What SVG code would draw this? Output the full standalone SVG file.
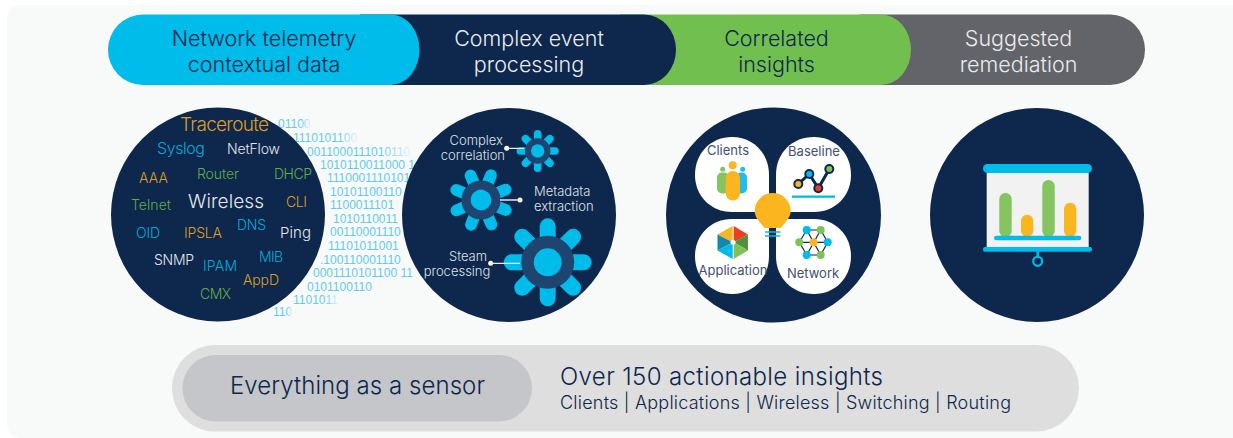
<svg xmlns="http://www.w3.org/2000/svg" xmlns:xlink="http://www.w3.org/1999/xlink" width="1233" height="438" viewBox="0 0 1233 438">
<style>
text{font-family:"Inter","Liberation Sans",sans-serif;font-weight:300}
.h{font-size:21.5px;text-anchor:middle}
.w{fill:#e9ebee}.n{fill:#0d274d}
.o{fill:#dc9f24}.b{fill:#0aa9d8}.g{fill:#64ab47}.l{fill:#e4e7ec}
.c{font-size:14px}
.lab{font-size:13px;fill:#dfe2e8}
.p{font-size:13px;fill:#41506f;text-anchor:middle;font-weight:400}
.bin{font-family:"Liberation Sans",sans-serif;font-size:12px;fill:#62c9ec;font-weight:400}
.f{fill:url(#fade)}
.petal{fill:#00bceb}
.ring{fill:#1f4470}
.lead{stroke:#e6e8ec;stroke-width:1.3;fill:none}
.dot{fill:#fff}
.cw{fill:#fff}
.ln{stroke:#0d274d;stroke-width:1.2}
</style>
<defs>
<linearGradient id="fade" x1="0" x2="1" y1="0" y2="0"><stop offset="0" stop-color="#62c9ec"/><stop offset=".7" stop-color="#62c9ec"/><stop offset="1" stop-color="#62c9ec" stop-opacity=".15"/></linearGradient>
<g id="gear"><g class="petal">
<rect x="-8" y="-44" width="16" height="88" rx="8"/>
<rect x="-8" y="-44" width="16" height="88" rx="8" transform="rotate(45)"/>
<rect x="-8" y="-44" width="16" height="88" rx="8" transform="rotate(90)"/>
<rect x="-8" y="-44" width="16" height="88" rx="8" transform="rotate(135)"/></g>
<circle class="ring" r="26.5"/><circle class="petal" r="14"/></g>
</defs>
<rect width="1233" height="438" fill="#fff"/>
<rect x="7" y="5" width="1240" height="433" rx="14" fill="#f8fafa"/>

<g id="header">
<g id="step-remediation"><path d="M860 14.500H1110A35 35.250 0 0 1 1145 49.750A35 35.250 0 0 1 1110 85H860Z" fill="#636469"/><text class="h w" x="1018.500" y="46">Suggested</text><text class="h w" x="1018.500" y="72">remediation</text></g>
<g id="step-insights"><path d="M620 14.500H881A30 35.250 0 0 1 911 49.750A30 35.250 0 0 1 881 85H620Z" fill="#71bf4e"/><text class="h n" x="776.500" y="46">Correlated</text><text class="h n" x="776.500" y="72">insights</text></g>
<g id="step-processing"><path d="M360 14.500H644A32 35.250 0 0 1 676 49.750A32 35.250 0 0 1 644 85H360Z" fill="#0d274d"/><text class="h w" x="529" y="46">Complex event</text><text class="h w" x="529" y="72">processing</text></g>
<g id="step-telemetry"><path d="M143 14.500H391A28.500 35.250 0 0 1 419.500 49.750A28.500 35.250 0 0 1 391 85H143A35 35.250 0 0 1 108 49.750A35 35.250 0 0 1 143 14.500Z" fill="#00bceb"/><text class="h n" x="264" y="46">Network telemetry</text><text class="h n" x="264" y="72">contextual data</text></g>
</g>

<g id="binary-stream">
<text class="bin f" x="278" y="128">01100</text>
<text class="bin f" x="293" y="142">1110101100</text>
<text class="bin f" x="307" y="156">0011000111010110</text>
<text class="bin" x="320" y="169">1010110011000 1</text>
<text class="bin" x="327" y="182">1110001110101</text>
<text class="bin" x="330" y="196">10101100110</text>
<text class="bin" x="330" y="209">1100011101</text>
<text class="bin" x="333" y="223">1010110011</text>
<text class="bin" x="330" y="236">00110001110</text>
<text class="bin" x="328" y="250">11101011001</text>
<text class="bin" x="320" y="264">.100110001110</text>
<text class="bin" x="313" y="277">0001110101100 11</text>
<text class="bin" x="307" y="291">0101100110</text>
<text class="bin f" x="293" y="304">1101011</text>
<text class="bin f" x="273" y="316">110</text>
</g>

<g id="node-telemetry">
<circle cx="218" cy="214.500" r="107" fill="#0d274d"/>
<text class="o" x="180" y="131" font-size="19" textLength="89">Traceroute</text>
<text class="b" x="157" y="154" font-size="16" textLength="48">Syslog</text>
<text class="l" x="227" y="154" font-size="14" textLength="53">NetFlow</text>
<text class="o c" x="139" y="183" textLength="29">AAA</text>
<text class="g c" x="197" y="179" textLength="42">Router</text>
<text class="g c" x="274" y="179" textLength="38">DHCP</text>
<text class="g c" x="131" y="210" textLength="40">Telnet</text>
<text class="l" x="188" y="208" font-size="19" textLength="76">Wireless</text>
<text class="o c" x="286" y="207" textLength="21">CLI</text>
<text class="b c" x="136" y="238" textLength="24">OID</text>
<text class="o c" x="184" y="238" textLength="38">IPSLA</text>
<text class="b c" x="237" y="230" textLength="29">DNS</text>
<text class="l" x="280" y="238" font-size="15" textLength="31">Ping</text>
<text class="l c" x="154" y="265" textLength="40">SNMP</text>
<text class="b c" x="203" y="271" textLength="34">IPAM</text>
<text class="b c" x="259" y="262" textLength="24">MIB</text>
<text class="o c" x="243" y="285" textLength="36">AppD</text>
<text class="g c" x="200" y="299" textLength="31">CMX</text>
</g>

<g id="node-processing">
<circle cx="509" cy="215" r="107" fill="#0d274d"/>
<use xlink:href="#gear" href="#gear" transform="translate(537.700 151) rotate(0) scale(.48)"/>
<use xlink:href="#gear" href="#gear" transform="translate(481 200) rotate(22) scale(.74)"/>
<use xlink:href="#gear" href="#gear" transform="translate(547.700 262.300)"/>
<text class="lab" x="503" y="145" text-anchor="end">Complex</text>
<text class="lab" x="505" y="160" text-anchor="end">correlation</text>
<text class="lab" x="534" y="196">Metadata</text>
<text class="lab" x="534" y="211">extraction</text>
<text class="lab" x="468" y="261" text-anchor="middle">Steam</text>
<text class="lab" x="457" y="276" text-anchor="middle">processing</text>
<circle class="dot" cx="506.700" cy="148.300" r="2.500"/>
<circle class="dot" cx="520" cy="200" r="2.500"/>
<circle class="dot" cx="490.700" cy="263.300" r="2.500"/>
</g>

<g id="node-insights">
<circle cx="773.500" cy="215" r="107.500" fill="#0d274d"/>
<path class="cw" d="M769 212H732C711 212 695 196 695 175C695 153 711 137 732 137C753 137 769 153 769 175Z"/>
<path class="cw" d="M776 212H814C835 212 851 196 851 175C851 153 835 137 814 137C792 137 776 153 776 175Z"/>
<path class="cw" d="M769 219H732C711 219 695 235 695 256C695 278 711 294 732 294C753 294 769 278 769 256Z"/>
<path class="cw" d="M776 219H814C835 219 851 235 851 256C851 278 835 294 814 294C792 294 776 278 776 256Z"/>
<text class="p" x="728" y="155">Clients</text>
<text class="p" x="814" y="156">Baseline</text>
<text class="p" x="733" y="275">Application</text>
<text class="p" x="813" y="278">Network</text>
<g id="icon-clients">
<rect x="717" y="172.500" width="12" height="21" rx="5" fill="#84c55f"/><circle cx="722.700" cy="169.300" r="2.500" fill="#84c55f"/>
<rect x="736" y="172.500" width="11" height="21" rx="5" fill="#22bdea"/><circle cx="742.700" cy="169.300" r="2.500" fill="#22bdea"/>
<rect x="725.700" y="171" width="14.300" height="29.500" rx="7" fill="#fbb61f"/><circle cx="732.700" cy="165.300" r="4" fill="#fbb61f"/>
</g>
<g id="icon-baseline">
<polyline points="798.300,184 809.300,174 818.300,188.300 829.300,169" fill="none" stroke="#0d274d" stroke-width="3"/>
<g stroke="#0d274d" stroke-width="2"><circle cx="798.300" cy="184" r="4" fill="#fbb61f"/><circle cx="809.300" cy="174" r="4" fill="#00bceb"/><circle cx="818.300" cy="188.300" r="4" fill="#e8392b"/><circle cx="829.300" cy="169" r="4" fill="#7fc25a"/></g>
<rect x="792" y="195.500" width="43" height="2.300" fill="#00bceb"/>
</g>
<g id="icon-application">
<polygon points="732.700,226 717.500,234.500 732.700,242.300" fill="#fbb61f"/>
<polygon points="733.700,226 747.900,234.500 733.700,242.300" fill="#ea3f25"/>
<polygon points="747.900,234.500 748,250.500 733.700,242.300" fill="#4f8f3d"/>
<polygon points="748,250.500 733.700,259 733.700,242.300" fill="#7fc25a"/>
<polygon points="732.700,259 717.500,250.500 732.700,242.300" fill="#00bceb"/>
<polygon points="717.500,250.500 717.500,234.500 732.700,242.300" fill="#1487ad"/>
<circle cx="733" cy="242.300" r="2.500" fill="#fff"/>
</g>
<g id="icon-network">
<path class="ln" fill="none" d="M806.700 230H820.700L827.700 242.300L820.700 255H806.700L799.300 242.300ZM806.700 230L820.700 255M820.700 230L806.700 255M799.300 242.300H827.700"/>
<circle cx="806.700" cy="230" r="4" fill="#00bceb"/><circle cx="820.700" cy="230" r="4" fill="#7fc25a"/><circle cx="799.300" cy="242.300" r="4" fill="#7fc25a"/><circle cx="827.700" cy="242.300" r="4" fill="#00bceb"/><circle cx="806.700" cy="255" r="4" fill="#00bceb"/><circle cx="820.700" cy="255" r="4" fill="#7fc25a"/><circle cx="813.500" cy="242.300" r="4" fill="#fbb61f"/>
</g>
<g id="icon-bulb">
<path d="M772.700 193A18 18 0 0 1 790.700 211C790.700 218 785 222 781 228H764.500C760 222 754.700 218 754.700 211A18 18 0 0 1 772.700 193Z" fill="#fbb61f"/>
<path d="M765 232H780.500M765 236H780.500" stroke="#00bceb" stroke-width="1.500"/>
</g>
</g>

<g id="node-remediation">
<circle cx="1037" cy="215" r="107" fill="#0d274d"/>
<rect x="986.700" y="173" width="102" height="74" fill="#f2f2f2"/>
<rect x="983" y="164" width="109" height="9" rx="4.500" fill="#00bceb"/>
<rect x="983" y="247" width="109" height="4.700" rx="2" fill="#00bceb"/>
<rect x="999.300" y="193" width="12.400" height="44" rx="6" fill="#84c55f"/>
<rect x="1021" y="214.700" width="12.300" height="22" rx="6" fill="#fbb61f"/>
<rect x="1042.300" y="180" width="12.400" height="57" rx="6" fill="#84c55f"/>
<rect x="1064" y="202.700" width="12.300" height="34" rx="6" fill="#fbb61f"/>
<rect x="994" y="235.700" width="87.300" height="4.600" rx="2.300" fill="#00bceb"/>
<path d="M1037.700 251V256" stroke="#00bceb" stroke-width="2.500"/>
<circle cx="1037.700" cy="261.300" r="4.500" fill="none" stroke="#00bceb" stroke-width="2.200"/>
</g>

<g id="footer">
<rect x="172" y="345" width="907" height="86.500" rx="43" fill="#dedede"/>
<g id="node-sensor"><rect x="182.500" y="355" width="349.500" height="66.500" rx="33" fill="#c5c6ca"/>
<text x="230" y="394" font-size="24" fill="#0d274d" textLength="255">Everything as a sensor</text></g>
<g id="node-actionable">
<text x="560" y="385" font-size="24" fill="#0d274d" textLength="323">Over 150 actionable insights</text>
<text x="560" y="409" font-size="18" fill="#0d274d" textLength="451">Clients | Applications | Wireless | Switching | Routing</text></g>
</g>

<g id="connectors">
<path class="lead" d="M506.700 148.300H524M520 200H500M490.700 263.300H520"/>
</g>
</svg>
